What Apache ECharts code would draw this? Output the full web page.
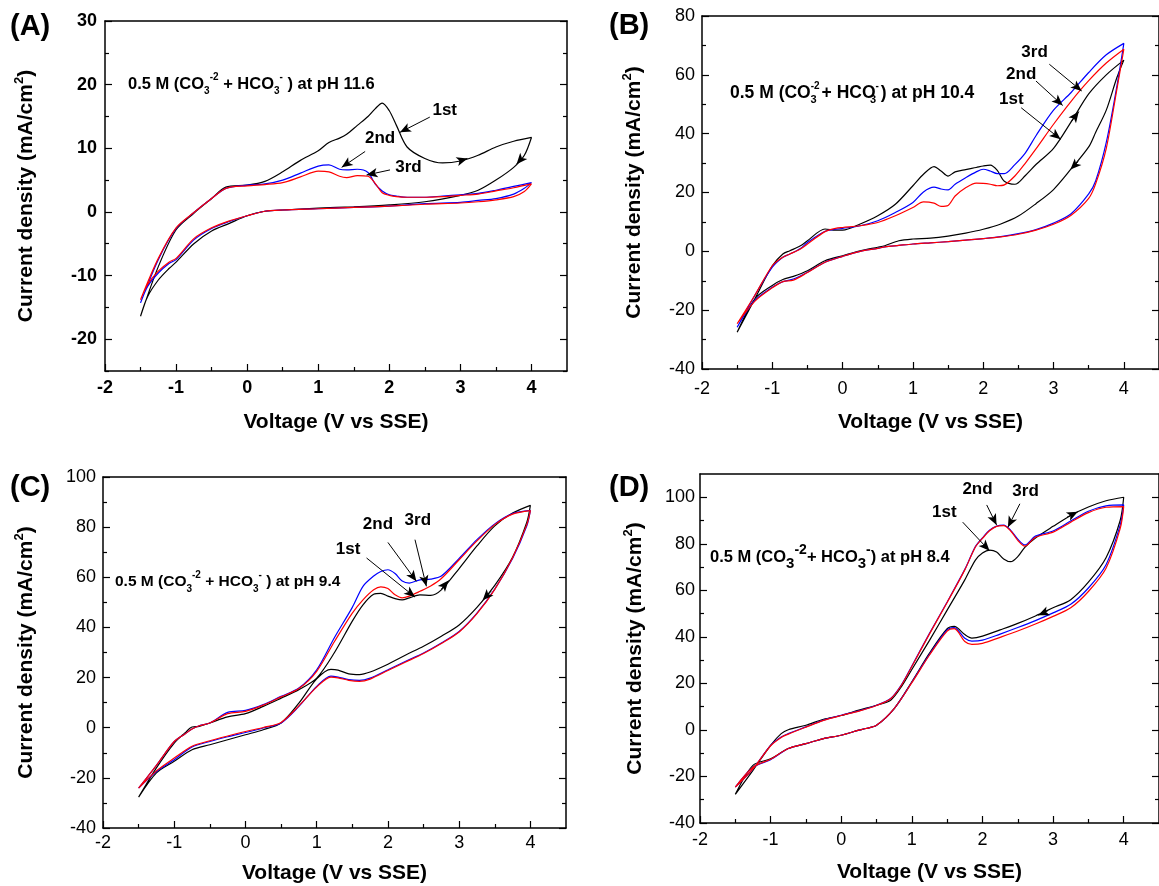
<!DOCTYPE html>
<html>
<head>
<meta charset="utf-8">
<script src="https://cdn.jsdelivr.net/npm/echarts@6/dist/echarts.min.js"></script>
<style>html,body{margin:0;padding:0;background:#fff}#c{width:1159px;height:886px}</style>
</head>
<body>
<div id="c"></div>
<script>
// ---------- Panel A: pH 11.6 ----------
const A_vF = [-1.5,-1.25,-1,-0.75,-0.5,-0.3,0,0.25,0.5,0.75,1,1.15,1.3,1.4,1.55,1.7,1.8,1.9,2.0,2.1,2.25,2.5,2.75,3,3.25,3.5,3.75,4];
const A_f1 = [-16.4,-8.6,-2.8,-0.2,2.1,3.9,4.2,4.8,6.3,8.1,9.6,10.9,11.6,12.2,13.6,15.0,16.2,17.1,15.9,13.6,10.2,8.4,7.7,8.0,8.9,10.2,11.1,11.7];
const A_f2 = [-14.3,-7.5,-2.6,-0.1,2.1,3.7,4.2,4.4,5.0,6.1,7.2,7.4,6.7,6.6,6.7,6.2,4.4,3.3,2.7,2.5,2.3,2.3,2.5,2.7,2.9,3.4,4.0,4.6];
const A_f3 = [-13.8,-7.3,-2.5,-0.1,2.1,3.7,4.1,4.3,4.6,5.5,6.4,6.3,5.6,5.4,5.7,5.6,4.5,3.0,2.6,2.4,2.3,2.3,2.4,2.6,2.8,3.3,3.8,4.4];
const A_vR = [4,3.9,3.75,3.5,3.25,3,2.5,2,1.5,1,0.5,0.25,0,-0.25,-0.5,-0.75,-1,-1.1,-1.25,-1.4,-1.5];
const A_r1 = [11.7,8.9,7.0,5.0,3.4,2.6,1.6,1.1,0.8,0.6,0.3,0.1,-0.6,-1.8,-3.0,-5.0,-7.9,-8.9,-10.7,-13.3,-16.4];
const A_r2 = [4.6,3.7,2.8,2.1,1.8,1.5,1.3,0.9,0.7,0.5,0.3,0.1,-0.6,-1.5,-2.6,-4.4,-7.5,-8.1,-9.6,-11.7,-14.3];
const A_r3 = [4.2,3.2,2.4,1.9,1.6,1.4,1.2,0.9,0.7,0.5,0.3,0.1,-0.6,-1.4,-2.5,-4.2,-7.3,-7.9,-9.3,-11.4,-13.8];

// ---------- Panel B: pH 10.4 ----------
const B_vF = [-1.5,-1.25,-1,-0.85,-0.75,-0.6,-0.5,-0.25,-0.1,0,0.25,0.5,0.75,1,1.15,1.3,1.4,1.5,1.6,1.75,1.9,2,2.1,2.2,2.3,2.45,2.6,2.75,3,3.25,3.5,3.75,4];
const B_f1 = [-27.5,-16.2,-4.9,-0.9,0.2,1.9,3.6,7.6,7.2,7.2,9.3,12.1,16,22.3,26.2,28.8,27.3,25.6,27,27.8,28.5,29,29.3,27.5,23.8,22.8,25.8,29.5,35,44,53.5,60,65];
const B_f2 = [-25.8,-15,-5.4,-2,-0.9,1,3,6.8,7.5,7.8,8.7,10.4,13.2,16.6,20.2,21.8,21.2,20.9,22.8,25,27,27.9,27.3,26.4,26.4,29.5,33.5,39.3,48,54,60.8,66.8,70.7];
const B_f3 = [-24.6,-15,-4.9,-2,-0.9,0.8,2.5,6.7,7.8,8.1,8.7,9.8,12.1,14.9,16.8,16.4,15.3,15.6,18.8,21.6,23.2,23.1,22.8,22.3,22.6,25.6,30,34.8,43.2,51,58,64,68.7];
const B_vR = [4,3.9,3.75,3.6,3.5,3.25,3,2.75,2.5,2.25,2,1.75,1.5,1.25,1,0.8,0.6,0.5,0.25,0,-0.25,-0.5,-0.7,-0.85,-1,-1.25,-1.5];
const B_r1 = [65,59,48,40.5,35.5,28,21,16.2,12,9.3,7.5,6.2,5.2,4.5,4.2,3.6,1.9,1.4,0.2,-1.5,-3.2,-6.6,-8.5,-9.6,-11.6,-16.2,-27.5];
const B_r2 = [70.7,56,37,24,19.5,12.8,9.6,7.4,6.0,5.0,4.3,3.8,3.3,2.9,2.5,2,1.5,1,0,-1.7,-3.7,-7.1,-9.4,-10.3,-12.2,-16.7,-25.8];
const B_r3 = [68.7,55,35,23,18,12.3,9.2,7.2,5.8,4.9,4.3,3.8,3.3,2.9,2.5,2,1.5,1,0,-1.7,-3.7,-7.2,-9.8,-10.3,-12.4,-17,-24.6];

// ---------- Panel C: pH 9.4 ----------
const C_vF = [-1.5,-1.25,-1,-0.85,-0.75,-0.65,-0.5,-0.25,0,0.25,0.5,0.75,1,1.25,1.5,1.65,1.8,1.9,2,2.1,2.2,2.3,2.45,2.6,2.75,3,3.25,3.5,3.75,4];
const C_f1 = [-27.7,-16,-6.1,-2.1,0.3,0.5,1.9,4.3,5.6,8.5,11.8,15.2,19.8,30,42.5,49,53.2,53.6,52.5,51.5,51,51.8,53,52.8,55,63.5,72.5,80.5,85.6,88.7];
const C_f2 = [-24.1,-15,-5.5,-2.5,-0.5,0.8,1.9,6.1,6.9,9.2,12.5,15.8,23.1,36,48,56.4,60.5,62.3,63,61.5,58.5,57.7,59,59.3,60.5,67.5,75,81.3,85.4,86.7];
const C_f3 = [-24.1,-15,-5.5,-2.5,-0.5,0.8,1.9,5.6,6.5,9,12.3,15.6,22.5,34.4,45.7,51,55,56.2,55.5,53,51.8,52.5,54.4,56.5,59.5,67,74.5,81,85.2,86.6];
const C_vR = [4,3.95,3.75,3.5,3.25,3,2.75,2.5,2.25,2,1.75,1.6,1.45,1.3,1.2,1,0.75,0.5,0.25,0,-0.25,-0.5,-0.75,-1,-1.25,-1.5];
const C_r1 = [88.7,82,68,56.8,48,41,36.5,32.5,29,25.3,22.2,21.2,21.5,23,23.3,19.5,9.8,1.9,-0.8,-2.8,-4.8,-6.8,-8.8,-13.4,-18,-27.7];
const C_r2 = [86.7,80.5,67.5,55.3,45.7,38.4,33.8,29.8,26.5,23.1,19.8,18.9,19.2,20.2,20.6,16.5,8.5,1.9,-0.1,-1.9,-3.6,-5.5,-7.7,-12.8,-17.5,-24.1];
const C_r3 = [86.6,81,67.8,55.2,45.5,38.2,33.6,29.6,26.2,22.8,19.4,18.5,18.9,19.9,20.2,16.2,8.7,2.1,0.1,-1.5,-3.3,-5.2,-7.4,-12.1,-17.2,-24.1];

// ---------- Panel D: pH 8.4 ----------
const D_vF = [-1.5,-1.25,-1,-0.85,-0.75,-0.5,-0.25,0,0.25,0.5,0.7,0.85,1,1.25,1.5,1.75,1.9,2,2.1,2.2,2.3,2.4,2.5,2.6,2.75,3,3.25,3.5,3.75,4];
const D_f1 = [-27.7,-17.4,-6.6,-1.6,0.1,2,4.6,6.2,8.5,10.6,12.8,18.5,26,38.5,51.5,64.5,73,76,77.3,76.5,73.5,72.3,74.5,78.5,82.5,87.5,92.2,95.8,98.5,100];
const D_f2 = [-24.6,-16.7,-6.6,-3,-1.6,1.3,4.2,6.3,8.2,10.6,13.5,19.3,27.5,41.5,55,69,78.8,82.5,85.8,87.6,88,85.8,82,79.5,83.3,85.5,89.8,94,96.3,96.7];
const D_f3 = [-24.6,-16.7,-6.8,-3.2,-1.8,1.2,4.1,6.2,8.1,10.5,13.4,19.1,27.3,41.3,54.8,68.8,78.6,82.3,85.6,87.5,87.8,85.5,81.5,79,82.8,85,89.3,93.4,95.7,96];
const D_vR = [4,3.95,3.75,3.5,3.25,3,2.75,2.5,2.25,2,1.85,1.75,1.6,1.5,1.25,1,0.75,0.5,0.35,0.25,0,-0.25,-0.5,-0.75,-1,-1.25,-1.5];
const D_r1 = [100,90,74,63.5,56,52.5,49,45.8,43,40.3,39.5,41,44.5,43.5,33,20.7,9.2,2,0.6,-0.1,-2.3,-3.7,-5.9,-8,-12.4,-15.2,-27.7];
const D_r2 = [96.7,88,71,61,54,50.3,47,44,41.2,38.6,38.2,39.4,44,43,32.5,20.5,9.2,2,0.6,-0.1,-2.3,-3.7,-5.9,-8,-12.8,-16,-24.6];
const D_r3 = [96,86.5,69.5,59.5,52.5,48.8,45.5,42.5,39.8,37.2,36.8,38,43.5,42.5,32.2,20.3,9.2,2,0.6,-0.1,-2.3,-3.7,-5.9,-8,-12.6,-16,-24.6];

// ---------- axis ranges and tick values ----------
const X_RANGE = [-2, 4.5];
const X_MAJOR = [-2, -1, 0, 1, 2, 3, 4];
const X_MINOR = [-1.5, -0.5, 0.5, 1.5, 2.5, 3.5];
const Y_RANGES = [[-25, 30], [-40, 80], [-40, 100], [-40, 110]];
const Y_MAJOR = [
  [-20, -10, 0, 10, 20, 30],
  [-40, -20, 0, 20, 40, 60, 80],
  [-40, -20, 0, 20, 40, 60, 80, 100],
  [-40, -20, 0, 20, 40, 60, 80, 100]
];
const Y_MINOR = [
  [-25, -15, -5, 5, 15, 25],
  [-30, -10, 10, 30, 50, 70],
  [-30, -10, 10, 30, 50, 70, 90],
  [-30, -10, 10, 30, 50, 70, 90]
];
const CYCLE_NAMES = ['1st', '2nd', '3rd'];
const CYCLE_COLORS = ['#000000', '#0000ff', '#ff0000'];
const PANEL_LETTERS = ['(A)', '(B)', '(C)', '(D)'];
const X_TITLE = 'Voltage (V vs SSE)';
const Y_TITLE = 'Current density (mA/cm{sup|2})';
const ELECTROLYTE = [
  '0.5 M (CO{s|3}{p|-2} + HCO{s|3}{p|-} ) at pH 11.6',
  '0.5 M (CO{sp|-2}{s2|3}{gap| }+ HCO{sp|-}{s2|3}{gap| }) at pH 10.4',
  '0.5 M (CO{s|3}{p|-2} + HCO{s|3}{p|-} ) at pH 9.4',
  '0.5 M (CO{bs|3}{bp|-2}+ HCO{bs|3}{bp|-}) at pH 8.4'
];

// annotation: label positions and arrows (data coordinates)
const LABEL_POS = [
  [[2.78,16.0],[1.87,11.6],[2.27,7.0]],
  [[2.40,51.7],[2.54,60.2],[2.73,67.5]],
  [[1.44,71.3],[1.86,81.0],[2.42,82.7]],
  [[1.46,93.5],[1.93,103.6],[2.61,102.6]]
];
const POINTER = [
  [[[2.57,14.9],[2.15,12.5]],[[1.66,9.5],[1.33,7.0]],[[2.01,6.6],[1.68,5.8]]],
  [[[2.54,48.8],[3.10,38.1]],[[2.75,57.9],[3.13,49.6]],[[2.94,63.6],[3.40,54.5]]],
  [[[1.70,67.7],[2.38,52.1]],[[2.00,73.9],[2.40,58.4]],[[2.38,75.0],[2.54,56.4]]],
  [[[1.72,89.3],[2.10,77.0]],[[2.06,96.7],[2.20,88.1]],[[2.53,97.2],[2.36,87.1]]]
];
const SWEEP_DIR = [
  [[[2.98,8.0],[3.10,8.4]],[[3.86,8.4],[3.79,7.5]]],
  [[[3.25,44.0],[3.36,47.5]],[[3.35,30.5],[3.24,27.8]]],
  [[[2.75,55.3],[2.85,58.7]],[[3.45,54.5],[3.33,50.8]]],
  [[[3.20,91.5],[3.35,93.8]],[[2.92,51.0],[2.79,49.3]]]
];

const PANELS = [
  {vF:A_vF, vR:A_vR, f:[A_f1,A_f2,A_f3], r:[A_r1,A_r2,A_r3]},
  {vF:B_vF, vR:B_vR, f:[B_f1,B_f2,B_f3], r:[B_r1,B_r2,B_r3]},
  {vF:C_vF, vR:C_vR, f:[C_f1,C_f2,C_f3], r:[C_r1,C_r2,C_r3]},
  {vF:D_vF, vR:D_vR, f:[D_f1,D_f2,D_f3], r:[D_r1,D_r2,D_r3]}
];

// ---------- layout (pixels) ----------
const LAYOUT = [
  {grid:{left:105, top:21, width:462, height:350}, bold:true,  yGap:66, xGap:41, yMargin:8, xMargin:8,
   letter:[10,27], note:[128,84], noteSize:16.5},
  {grid:{left:702, top:16, width:460, height:353}, bold:false, yGap:55, xGap:43, yMargin:7, xMargin:11,
   letter:[609,26], note:[730,93], noteSize:17.5},
  {grid:{left:103, top:477, width:463, height:351}, bold:false, yGap:64, xGap:35, yMargin:7, xMargin:6,
   letter:[10,488], note:[115,582], noteSize:15.5},
  {grid:{left:700, top:474, width:462, height:349}, bold:false, yGap:52, xGap:39, yMargin:5, xMargin:8,
   letter:[609,488], note:[710,557], noteSize:16.5}
];

const FONT = '"Liberation Sans", Arial, Helvetica, sans-serif';
const MAJOR_LEN = 7, MINOR_LEN = 4;

function loopData(vF, f, vR, r) {
  const pts = vF.map((v, i) => [v, f[i]]);
  for (let i = 1; i < vR.length; i++) pts.push([vR[i], r[i]]);
  return pts;
}

const grids = [], xAxes = [], yAxes = [], series = [], graphics = [];
const lineStyle = {color:'#000', width:1.5};
const tickLine = {color:'#000', width:1.2};

PANELS.forEach((p, k) => {
  const L = LAYOUT[k];
  const [ymin, ymax] = Y_RANGES[k];
  grids.push(Object.assign({containLabel:false}, L.grid));
  const lblStyle = {color:'#000', fontSize:18, fontFamily:FONT, fontWeight: L.bold ? 'bold' : 'normal'};
  const xBase = {type:'value', gridIndex:k, min:X_RANGE[0], max:X_RANGE[1], splitLine:{show:false}};
  const yBase = {type:'value', gridIndex:k, min:ymin, max:ymax, splitLine:{show:false}};
  const xi = xAxes.length, yi = yAxes.length;
  // bottom axis with labels and major ticks
  xAxes.push(Object.assign({}, xBase, {
    position:'bottom', offset:0,
    name:X_TITLE, nameLocation:'middle', nameGap:L.xGap,
    nameTextStyle:{color:'#000', fontSize:21, fontWeight:'bold', fontFamily:FONT},
    axisLine:{show:true, onZero:false, lineStyle:lineStyle},
    axisTick:{show:true, inside:true, length:MAJOR_LEN, lineStyle:tickLine, customValues:X_MAJOR},
    axisLabel:Object.assign({margin:L.xMargin, customValues:X_MAJOR, formatter:v => String(v)}, lblStyle)
  }));
  // bottom minor ticks
  xAxes.push(Object.assign({}, xBase, {
    position:'bottom', offset:0,
    axisLine:{show:false, onZero:false},
    axisTick:{show:true, inside:true, length:MINOR_LEN, lineStyle:tickLine, customValues:X_MINOR},
    axisLabel:{show:false}
  }));
  // top frame line
  xAxes.push(Object.assign({}, xBase, {
    position:'top', offset:0,
    axisLine:{show:true, onZero:false, lineStyle:lineStyle},
    axisTick:{show:false}, axisLabel:{show:false}
  }));
  // left axis with labels
  yAxes.push(Object.assign({}, yBase, {
    position:'left', offset:0,
    name:Y_TITLE, nameLocation:'middle', nameGap:L.yGap, nameRotate:90,
    nameTextStyle:{color:'#000', fontSize:21, fontWeight:'bold', fontFamily:FONT, lineHeight:26,
      rich:{sup:{fontSize:13, fontWeight:'bold', fontFamily:FONT, color:'#000', verticalAlign:'top', lineHeight:26}}},
    axisLine:{show:true, onZero:false, lineStyle:lineStyle},
    axisTick:{show:true, inside:true, length:MAJOR_LEN, lineStyle:tickLine, customValues:Y_MAJOR[k]},
    axisLabel:Object.assign({margin:L.yMargin, customValues:Y_MAJOR[k], formatter:v => String(v)}, lblStyle)
  }));
  yAxes.push(Object.assign({}, yBase, {
    position:'left', offset:0,
    axisLine:{show:false, onZero:false},
    axisTick:{show:true, inside:true, length:MINOR_LEN, lineStyle:tickLine, customValues:Y_MINOR[k]},
    axisLabel:{show:false}
  }));
  // right frame with ticks
  yAxes.push(Object.assign({}, yBase, {
    position:'right', offset:0,
    axisLine:{show:true, onZero:false, lineStyle:lineStyle},
    axisTick:{show:true, inside:true, length:MAJOR_LEN, lineStyle:tickLine, customValues:Y_MAJOR[k]},
    axisLabel:{show:false}
  }));
  yAxes.push(Object.assign({}, yBase, {
    position:'right', offset:0,
    axisLine:{show:false, onZero:false},
    axisTick:{show:true, inside:true, length:MINOR_LEN, lineStyle:tickLine, customValues:Y_MINOR[k]},
    axisLabel:{show:false}
  }));

  for (let c = 0; c < 3; c++) {
    const s = {
      type:'line', name:CYCLE_NAMES[c], xAxisIndex:xi, yAxisIndex:yi,
      data:loopData(p.vF, p.f[c], p.vR, p.r[c]),
      showSymbol:false, symbol:'none', smooth:0.3,
      lineStyle:{color:CYCLE_COLORS[c], width:1.2}, itemStyle:{color:CYCLE_COLORS[c]},
      silent:true, z: 2 + c
    };
    if (c === 0) {
      const mlData = [];
      POINTER[k].forEach(pr => mlData.push([{coord:pr[0], symbol:'none'}, {coord:pr[1], symbol:'arrow', symbolSize:[7,11]}]));
      SWEEP_DIR[k].forEach(pr => mlData.push([{coord:pr[0], symbol:'none'}, {coord:pr[1], symbol:'arrow', symbolSize:[7,11]}]));
      s.markLine = {
        silent:true, animation:false, label:{show:false}, precision:4,
        lineStyle:{color:'#000', width:1, type:'solid'}, emphasis:{disabled:true},
        data:mlData
      };
      s.markPoint = {
        silent:true, animation:false, symbol:'rect', symbolSize:1,
        itemStyle:{color:'rgba(0,0,0,0)'},
        label:{show:true, position:'inside', formatter:'{b}', color:'#000', fontSize:17, fontWeight:'bold', fontFamily:FONT},
        data:LABEL_POS[k].map((pos, j) => ({name:CYCLE_NAMES[j], coord:pos}))
      };
    }
    series.push(s);
  }

  graphics.push({
    type:'text', x:L.letter[0], y:L.letter[1], silent:true,
    style:{text:PANEL_LETTERS[k], fill:'#000', font:'bold 29px ' + FONT, verticalAlign:'middle', align:'left'}
  });
  const fs = L.noteSize;
  graphics.push({
    type:'text', x:L.note[0], y:L.note[1], silent:true,
    style:{
      text:ELECTROLYTE[k], fill:'#000', fontSize:fs, fontWeight:'bold', fontFamily:FONT,
      verticalAlign:'middle', align:'left', lineHeight:24,
      rich:{
        s:{fontSize:10, fontWeight:'bold', fontFamily:FONT, verticalAlign:'bottom', lineHeight:24},
        p:{fontSize:10, fontWeight:'bold', fontFamily:FONT, verticalAlign:'top', lineHeight:24},
        sp:{fontSize:10, fontWeight:'bold', fontFamily:FONT, verticalAlign:'top', lineHeight:24},
        s2:{fontSize:11, fontWeight:'bold', fontFamily:FONT, verticalAlign:'bottom', lineHeight:24, padding:[0,0,0,-9]},
        gap:{fontSize:fs, fontWeight:'bold', fontFamily:FONT, lineHeight:24},
        bs:{fontSize:15, fontWeight:'bold', fontFamily:FONT, verticalAlign:'bottom', lineHeight:28},
        bp:{fontSize:14, fontWeight:'bold', fontFamily:FONT, verticalAlign:'top', lineHeight:28}
      }
    }
  });
});

const chart = echarts.init(document.getElementById('c'), null, {renderer:'canvas'});
chart.setOption({
  animation:false,
  backgroundColor:'#ffffff',
  textStyle:{fontFamily:FONT},
  grid:grids, xAxis:xAxes, yAxis:yAxes, series:series, graphic:graphics
});
</script>
</body>
</html>
